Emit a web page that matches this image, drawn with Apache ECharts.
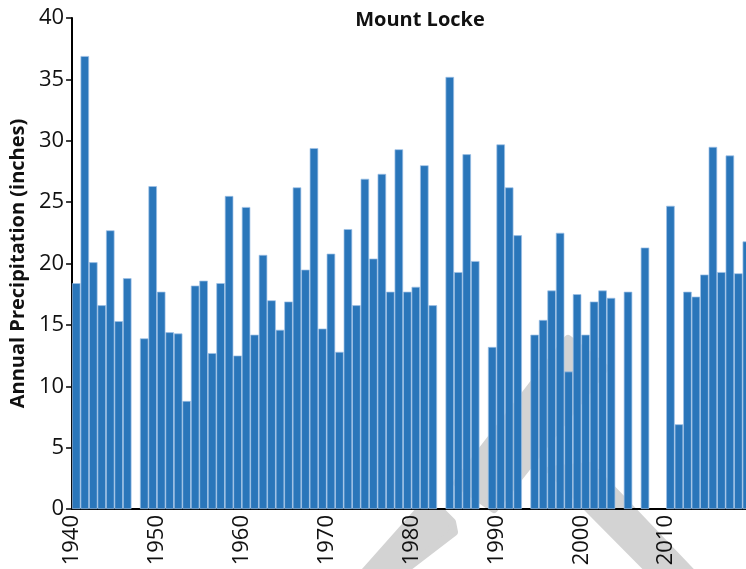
<!DOCTYPE html>
<html>
<head>
<meta charset="utf-8">
<script src="https://cdn.jsdelivr.net/npm/echarts@6/dist/echarts.min.js"></script>
<style>
  html, body { margin: 0; padding: 0; background: #fff; }
  #chart { width: 746px; height: 569px; }
</style>
</head>
<body>
<div id="chart"></div>
<script>
// annual precipitation, Mount Locke (null = no record)
var firstYear = 1940;
var precip = [
    18.4, 36.9, 20.1, 16.6, 22.7, 15.3, 18.8, null, 13.9, 26.3,
    17.7, 14.4, 14.3, 8.8, 18.2, 18.6, 12.7, 18.4, 25.5, 12.5,
    24.6, 14.2, 20.7, 17.0, 14.6, 16.9, 26.2, 19.5, 29.4, 14.7,
    20.8, 12.8, 22.8, 16.6, 26.9, 20.4, 27.3, 17.7, 29.3, 17.7,
    18.1, 28.0, 16.6, null, 35.2, 19.3, 28.9, 20.2, null, 13.2,
    29.7, 26.2, 22.3, null, 14.2, 15.4, 17.8, 22.5, 11.2, 17.5,
    14.2, 16.9, 17.8, 17.2, null, 17.7, null, 21.3, null, null,
    24.7, 6.9, 17.7, 17.3, 19.1, 29.5, 19.3, 28.8, 19.2, 21.8
];
var years = precip.map(function (v, i) { return firstYear + i; });
var yTicks = [0, 5, 10, 15, 20, 25, 30, 35, 40];

// bars sit between year and year+1 (edge aligned)
var barData = years.map(function (y, i) {
    return [y + 0.5, precip[i]];
});

var grey = '#d3d3d3';
var wmStyle = { fill: grey, stroke: grey, lineWidth: 8, lineJoin: 'round' };

var option = {
    animation: false,
    backgroundColor: '#fff',
    title: {
        text: 'Mount Locke',
        left: 415,
        top: 5,
        textAlign: 'center',
        textStyle: {
            fontFamily: 'Open Sans',
            fontSize: 20,
            fontWeight: 'bold',
            color: '#111'
        }
    },
    grid: {
        left: 72,
        right: 0,
        top: 18,
        bottom: 60
    },
    // faint watermark behind the plot
    graphic: [
        { type: 'polygon', z: -10, shape: { points: [[457, 483], [568, 339], [605, 368], [494, 509]] }, style: wmStyle },
        { type: 'polygon', z: -10, shape: { points: [[362, 575], [418, 512], [442, 512], [452, 522], [454, 532], [398, 575]] }, style: wmStyle },
        { type: 'polygon', z: -10, shape: { points: [[550, 470], [590, 466], [694, 575], [654, 575]] }, style: wmStyle }
    ],
    xAxis: {
        type: 'value',
        min: 1940,
        max: 2019.4,
        interval: 10,
        axisLine: { show: true, onZero: false, lineStyle: { color: '#000', width: 2 } },
        axisTick: { show: false },
        splitLine: { show: false },
        axisLabel: {
            rotate: 90,
            margin: 6,
            showMaxLabel: false,
            fontFamily: 'Open Sans',
            fontSize: 22,
            color: '#111',
            formatter: function (v) { return String(v); }
        }
    },
    yAxis: {
        type: 'value',
        min: yTicks[0],
        max: yTicks[yTicks.length - 1],
        interval: 5,
        name: 'Annual Precipitation (inches)',
        nameLocation: 'middle',
        nameGap: 41,
        nameTextStyle: {
            fontFamily: 'Open Sans',
            fontSize: 20,
            fontWeight: 'bold',
            color: '#111'
        },
        axisLine: { show: true, lineStyle: { color: '#000', width: 2 } },
        axisTick: { show: true, length: 6, lineStyle: { color: '#000', width: 1.5 } },
        splitLine: { show: false },
        axisLabel: {
            margin: 8,
            fontFamily: 'Open Sans',
            fontSize: 22,
            color: '#111'
        }
    },
    series: [
        {
            type: 'bar',
            data: barData,
            barWidth: 8.5,
            itemStyle: {
                color: '#2a76ba',
                borderColor: '#9fc2e6',
                borderWidth: 0.7
            }
        }
    ]
};

var mychart = echarts.init(document.getElementById('chart'));
mychart.setOption(option);
window.addEventListener('resize', function () {
    mychart.resize();
});
</script>
</body>
</html>
